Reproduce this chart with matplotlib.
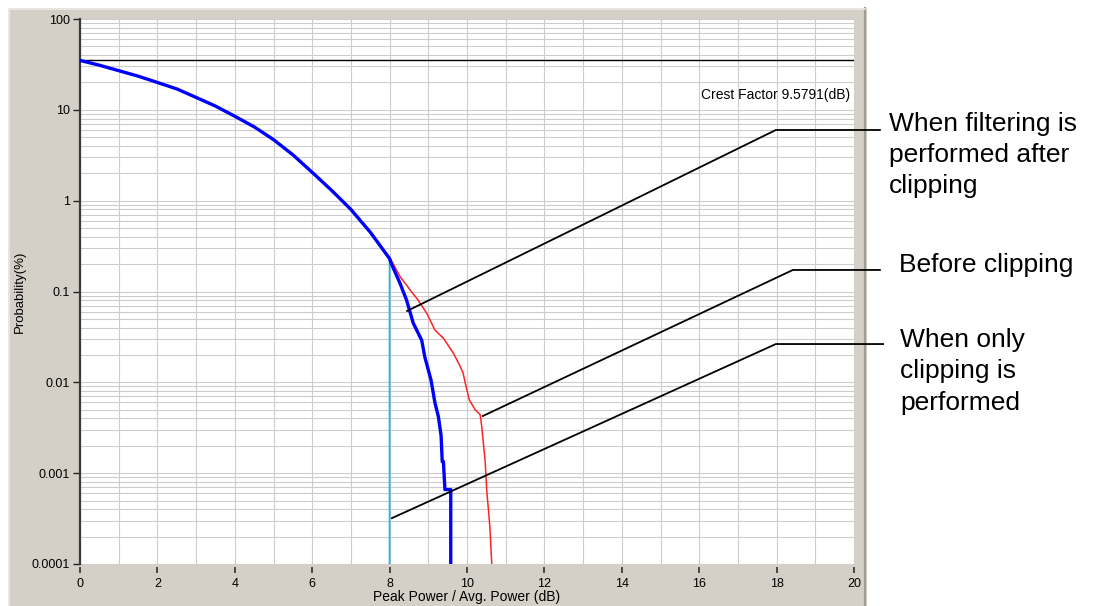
import numpy as np
import matplotlib.pyplot as plt
from matplotlib.patches import Rectangle
from matplotlib.ticker import LogLocator, FixedLocator, NullFormatter

plt.rcParams['font.family'] = ['Liberation Sans', 'DejaVu Sans']

# --- data (x in dB, y in %) ---
base_x = [0, 0.5, 1, 1.5, 2, 2.5, 3, 3.5, 4, 4.5, 5, 5.5, 6, 6.5, 7, 7.5, 8.0]
base_y = [35, 31, 27, 23.5, 20, 17, 13.7, 11, 8.5, 6.5, 4.7, 3.2, 2.05, 1.3, 0.8, 0.45, 0.23]

# filtering after clipping (thick blue)
filt_x = [8.05, 8.27, 8.44, 8.61, 8.83, 8.91, 9.07, 9.17, 9.26, 9.33, 9.36, 9.39, 9.43, 9.58, 9.58]
filt_y = [0.2, 0.123, 0.08, 0.045, 0.029, 0.019, 0.0106, 0.006, 0.0042, 0.0026, 0.00134, 0.00134, 0.00066, 0.00066, 0.0001]

# before clipping (red)
orig_x = [8.03, 8.27, 8.53, 8.74, 8.96, 9.17, 9.39, 9.65, 9.82, 9.9, 9.97, 10.06,
          10.21, 10.34, 10.38, 10.47, 10.51, 10.59, 10.64]
orig_y = [0.226, 0.146, 0.104, 0.08, 0.0575, 0.0377, 0.0306, 0.0209, 0.0151, 0.0126, 0.0092, 0.0064,
          0.005, 0.0044, 0.0033, 0.00134, 0.00065, 0.00026, 0.0001]

# only clipping (cyan): drops straight down at the clip level
clip_x = [8.0, 8.0]
clip_y = [0.23, 0.0001]

crest_level = 35.5
crest_text = 'Crest Factor 9.5791(dB)'

# leader lines: start point on curve, knee, end
lead_filt = ([8.45, 17.98, 20.67], [0.061, 6.0, 6.0])
lead_orig = ([10.41, 18.42, 20.67], [0.00426, 0.1726, 0.1726])
lead_clip = ([8.06, 17.98, 20.75], [0.00032, 0.0264, 0.0264])

xticks = list(range(0, 21, 2))
yticks = [0.0001, 0.001, 0.01, 0.1, 1, 10, 100]
ytick_labels = ['0.0001', '0.001', '0.01', '0.1', '1', '10', '100']

W, H = 1096, 606
fig = plt.figure(figsize=(W / 100, H / 100), dpi=100)
fig.patch.set_facecolor('white')

# grey window frame
frame = Rectangle((8 / W, 0), (867 - 8) / W, (H - 8) / H, transform=fig.transFigure,
                  facecolor='#d4d0c8', edgecolor='none', zorder=-10)
fig.add_artist(frame)
fig.add_artist(plt.Line2D([865 / W, 865 / W], [0, 1 - 8 / H], color='#a19d96', lw=1.6, zorder=-9))
fig.add_artist(plt.Line2D([9 / W, 9 / W], [0, 1 - 9 / H], color='#ecebe8', lw=1.2, zorder=-9))
fig.add_artist(plt.Line2D([9 / W, 865 / W], [1 - 9 / H, 1 - 9 / H], color='#ecebe8', lw=1.2, zorder=-9))

ax = fig.add_axes([80 / W, 1 - 564 / H, (854 - 80) / W, (564 - 19) / H], zorder=1)
ax.set_facecolor('white')
ax.set_yscale('log')
ax.set_xlim(0, 20)
ax.set_ylim(0.0001, 100)

ax.set_xticks(xticks)
ax.xaxis.set_minor_locator(FixedLocator(range(1, 20, 2)))
ax.set_yticks(yticks)
ax.set_yticklabels(ytick_labels)
ax.yaxis.set_minor_locator(LogLocator(base=10, subs=np.arange(2, 10)))
ax.yaxis.set_minor_formatter(NullFormatter())

ax.grid(which='both', color='#cccccc', lw=0.8)
ax.set_axisbelow(True)

for s in ['top', 'right', 'bottom']:
    ax.spines[s].set_visible(False)
ax.spines['bottom'].set_position(('outward', 2.5))
ax.spines['left'].set_color('#3a3a3a')
ax.spines['left'].set_linewidth(1.6)

ax.tick_params(axis='x', which='major', direction='out', length=4.5, width=1.1, color='#222222',
               labelsize=9, pad=3)
ax.tick_params(axis='y', which='major', direction='out', length=5, width=1.0, color='#222222',
               labelsize=9, pad=2.5)
ax.tick_params(which='minor', length=0)

# curves
ax.plot(base_x + clip_x, base_y + clip_y, color='#2ab4e8', lw=1.3, zorder=3)
ax.plot([base_x[-1]] + orig_x, [base_y[-1]] + orig_y, color='#ff2222', lw=1.1, zorder=4)
ax.plot(base_x + filt_x, base_y + filt_y, color='#0000ff', lw=2.4, zorder=5)

ax.axhline(crest_level, color='black', lw=1.0, zorder=4)
ax.text(19.9, 10 ** 1.12, crest_text, ha='right', va='baseline', fontsize=10, zorder=6)

for lx, ly in [lead_filt, lead_orig, lead_clip]:
    ax.plot(lx, ly, color='black', lw=1.3, clip_on=False, zorder=6)

ax.set_xlabel('Peak Power / Avg. Power (dB)', fontsize=10, labelpad=0)
ax.set_ylabel('Probability(%)', fontsize=9.5, labelpad=4)

# annotation texts (pixel baseline positions)
notes = [
    (889, 131, 'When filtering is'),
    (889, 162, 'performed after'),
    (889, 193, 'clipping'),
    (899, 272, 'Before clipping'),
    (900, 347, 'When only'),
    (900, 378, 'clipping is'),
    (900, 410, 'performed'),
]
for px, py, t in notes:
    fig.text(px / W, 1 - py / H, t, fontsize=19, ha='left', va='baseline')

fig.savefig('out.png', dpi=100)
